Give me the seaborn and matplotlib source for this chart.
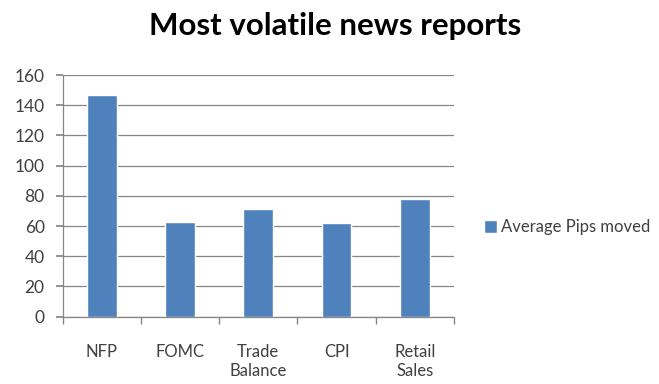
import matplotlib
matplotlib.use("Agg")
import matplotlib.pyplot as plt
import pandas as pd
import seaborn as sns

# dados
categorias = ["NFP", "FOMC", "Trade\nBalance", "CPI", "Retail\nSales"]
pips = [147, 62.5, 71, 62, 78]
serie = "Average Pips moved"
yticks = [0, 20, 40, 60, 80, 100, 120, 140, 160]

AZUL = "#4F81BD"
CINZA = "#868686"
TEXTO = "#404040"

sns.set_theme(style="white")
plt.rcParams["font.family"] = ["Lato", "DejaVu Sans"]

df = pd.DataFrame({"categoria": categorias, "pips": pips, "serie": serie})

fig, ax = plt.subplots(figsize=(6.59, 3.84), dpi=100)
fig.subplots_adjust(left=62.7 / 659, right=454 / 659, top=1 - 75 / 384, bottom=1 - 316.7 / 384)

sns.barplot(data=df, x="categoria", y="pips", hue="serie", palette=[AZUL],
            saturation=1, width=0.38, ax=ax, legend=True)

ax.set_ylim(0, 160)
ax.set_xlim(-0.5, len(categorias) - 0.5)
ax.set_yticks(yticks)
ax.yaxis.grid(True, color=CINZA, linewidth=0.9)
ax.set_axisbelow(True)
ax.set_xlabel("")
ax.set_ylabel("")

for lado in ["top", "right"]:
    ax.spines[lado].set_visible(False)
for lado in ["left", "bottom"]:
    ax.spines[lado].set_color(CINZA)
    ax.spines[lado].set_linewidth(0.9)

ax.tick_params(axis="y", left=True, length=5, color=CINZA, labelsize=12.5, labelcolor=TEXTO, pad=8)
ax.tick_params(axis="x", which="major", bottom=False, labelsize=12, labelcolor=TEXTO, pad=14)
ax.set_xticks([i - 0.5 for i in range(len(categorias) + 1)], minor=True)
ax.tick_params(axis="x", which="minor", bottom=True, length=5, color=CINZA)

ax.get_legend().remove()
handles, labels = ax.get_legend_handles_labels()
fig.legend(handles, labels, loc="center left", bbox_to_anchor=(484 / 659, 1 - 227 / 384),
           frameon=False, fontsize=12, handlelength=0.8, handleheight=0.8,
           handletextpad=0.2, borderpad=0, borderaxespad=0, labelcolor=TEXTO)

fig.suptitle("Most volatile news reports", x=335 / 659, y=1 - 12 / 384, va="top",
             fontsize=22.5, fontweight="bold", color="black")

fig.savefig("out.png", dpi=100)
